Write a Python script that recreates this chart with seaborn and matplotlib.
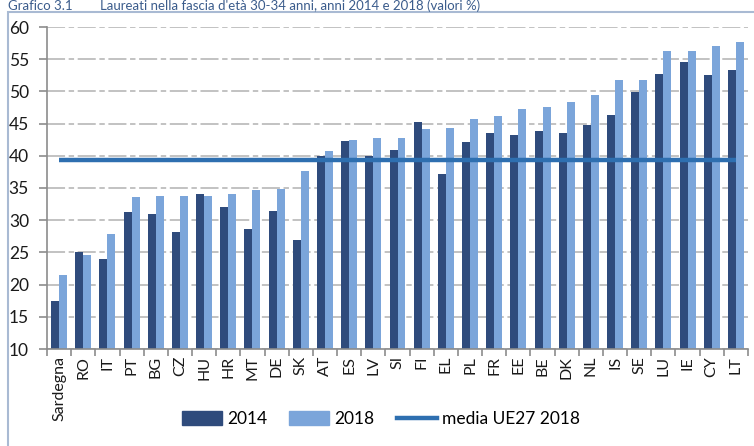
import seaborn as sns
import matplotlib.pyplot as plt
import pandas as pd
from matplotlib.patches import Patch, Rectangle
from matplotlib.lines import Line2D

# dati
paesi = ['Sardegna', 'RO', 'IT', 'PT', 'BG', 'CZ', 'HU', 'HR', 'MT', 'DE', 'SK',
         'AT', 'ES', 'LV', 'SI', 'FI', 'EL', 'PL', 'FR', 'EE', 'BE', 'DK', 'NL',
         'IS', 'SE', 'LU', 'IE', 'CY', 'LT']
val_2014 = [17.4, 25.0, 23.9, 31.3, 30.9, 28.2, 34.1, 32.1, 28.6, 31.4, 26.9,
            40.0, 42.3, 39.9, 40.9, 45.3, 37.2, 42.1, 43.6, 43.2, 43.8, 43.6, 44.8,
            46.4, 49.9, 52.7, 54.6, 52.5, 53.3]
val_2018 = [21.5, 24.6, 27.8, 33.6, 33.8, 33.8, 33.7, 34.1, 34.7, 34.9, 37.7,
            40.7, 42.4, 42.7, 42.7, 44.2, 44.3, 45.7, 46.2, 47.2, 47.6, 48.4, 49.4,
            51.7, 51.8, 56.2, 56.3, 57.1, 57.6]
media_ue27_2018 = 39.4

col_2014 = '#2F4B7C'
col_2018 = '#7BA5DA'
col_media = '#2E6FB0'

df = pd.DataFrame({
    'paese': paesi * 2,
    'anno': ['2014'] * len(paesi) + ['2018'] * len(paesi),
    'valore': val_2014 + val_2018,
})

plt.rcParams['font.family'] = ['Lato', 'DejaVu Sans']

fig = plt.figure(figsize=(7.54, 4.46), dpi=100)
ax = fig.add_axes([47 / 754, 1 - 349 / 446, 701 / 754, 322 / 446])

sns.barplot(data=df, x='paese', y='valore', hue='anno', order=paesi,
            palette={'2014': col_2014, '2018': col_2018}, saturation=1,
            width=0.66, linewidth=0, ax=ax, legend=False)

# linea media UE27
ax.plot(range(len(paesi)), [media_ue27_2018] * len(paesi), color=col_media,
        linewidth=3.2, zorder=5, solid_capstyle='butt')

ax.set_ylim(10, 60)
ax.set_xlim(-0.5, len(paesi) - 0.5)
ax.set_yticks(range(10, 61, 5))
ax.set_xlabel('')
ax.set_ylabel('')

ax.grid(axis='y', color='#BDBDBD', linewidth=1.3, linestyle=(0, (10, 2, 3, 2)))
ax.set_axisbelow(True)
for s in ['top', 'right']:
    ax.spines[s].set_visible(False)
for s in ['left', 'bottom']:
    ax.spines[s].set_color('#8C8C8C')
    ax.spines[s].set_linewidth(1.2)

ax.tick_params(axis='y', length=6, width=1.2, color='#8C8C8C', labelsize=12.5,
               labelcolor='#1A1A1A', pad=7)
ax.tick_params(axis='x', length=0, labelsize=11.5, labelcolor='#1A1A1A',
               rotation=90, pad=5)
# tacche tra le categorie
ax.set_xticks([i + 0.5 for i in range(-1, len(paesi))], minor=True)
ax.tick_params(axis='x', which='minor', length=5, width=1.2, color='#8C8C8C')

handles = [Patch(color=col_2014, label='2014'),
           Patch(color=col_2018, label='2018'),
           Line2D([], [], color=col_media, linewidth=3.2, label='media UE27 2018')]
fig.legend(handles=handles, loc='center', bbox_to_anchor=(381 / 754, 1 - 419 / 446),
           ncol=3, frameon=False, fontsize=12.5, handlelength=2.3,
           handleheight=0.85, handletextpad=0.3, columnspacing=1.3)

# cornice e titolo
fig.patches.append(Rectangle((8 / 754, -0.05), 1.0, 1 - 12 / 446 + 0.05,
                             transform=fig.transFigure, fill=False,
                             edgecolor='#A9BAD3', linewidth=1.5))
fig.text(8 / 754, 1 - 9.5 / 446, 'Grafico 3.1', fontsize=9.5, color='#3B5C8C',
         va='baseline')
fig.text(100 / 754, 1 - 9.5 / 446,
         "Laureati nella fascia d'età 30-34 anni, anni 2014 e 2018 (valori %)",
         fontsize=9.5, color='#3B5C8C', va='baseline')

fig.savefig('out.png', dpi=100)
